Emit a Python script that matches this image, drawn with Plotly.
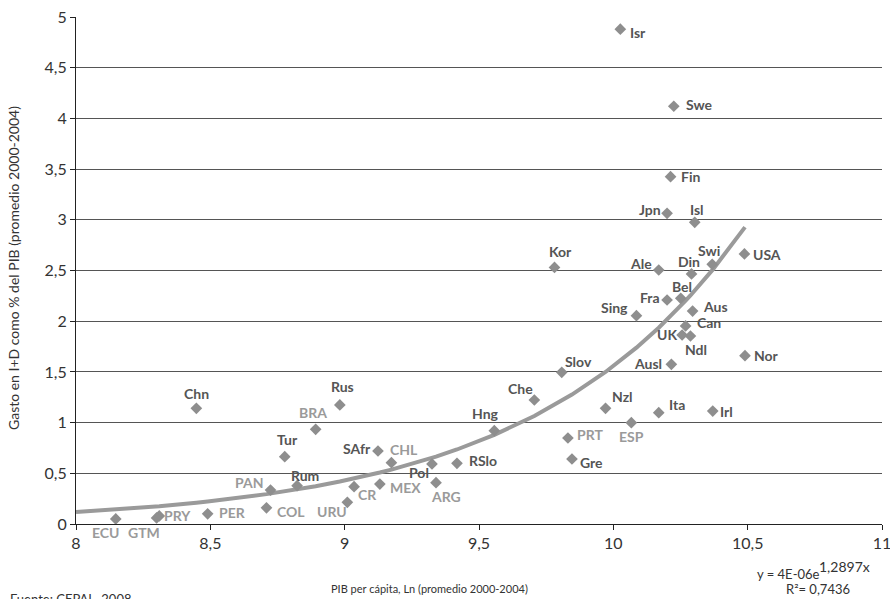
import plotly.graph_objects as go
import numpy as np

# ---- data ----
countries = ["Isr", "Swe", "Fin", "Jpn", "Isl", "Kor", "Ale", "Din", "Swi", "USA",
             "Bel", "Fra", "Sing", "Aus", "Can", "UK", "Ndl", "Nor", "Ausl", "Ita",
             "Irl", "Nzl", "Slov", "Che", "Hng", "ESP", "PRT", "Gre", "RSlo", "Pol",
             "ARG", "MEX", "CR", "URU", "CHL", "SAfr", "Rus", "BRA", "Tur", "Rum",
             "PAN", "COL", "PER", "PRY", "GTM", "ECU", "Chn"]
ln_gdp = [10.026, 10.225, 10.213, 10.20, 10.303, 9.781, 10.169, 10.291, 10.368, 10.488,
          10.251, 10.20, 10.086, 10.295, 10.269, 10.256, 10.287, 10.49, 10.216, 10.169,
          10.37, 9.971, 9.808, 9.706, 9.557, 10.067, 9.831, 9.846, 9.418, 9.325,
          9.34, 9.131, 9.035, 9.01, 9.174, 9.124, 8.982, 8.892, 8.777, 8.823,
          8.724, 8.709, 8.49, 8.31, 8.30, 8.148, 8.448]
rd_pct = [4.88, 4.12, 3.425, 3.064, 2.975, 2.53, 2.505, 2.466, 2.561, 2.663,
          2.226, 2.209, 2.054, 2.10, 1.953, 1.864, 1.854, 1.66, 1.575, 1.098,
          1.114, 1.141, 1.496, 1.223, 0.92, 0.999, 0.848, 0.641, 0.598, 0.592,
          0.408, 0.394, 0.368, 0.214, 0.605, 0.72, 1.174, 0.934, 0.664, 0.378,
          0.335, 0.16, 0.10, 0.08, 0.06, 0.05, 1.141]
ibero = {"ESP", "PRT", "ARG", "MEX", "CR", "URU", "CHL", "BRA", "PAN", "COL",
         "PER", "PRY", "GTM", "ECU"}

# exponential trend (coefficient; shown rounded as 4E-06)
trend_a = 3.9e-06
trend_b = 1.2897
trend_start = 8.0

x_ticks = [8, 8.5, 9, 9.5, 10, 10.5, 11]
x_ticktext = ["8", "8,5", "9", "9,5", "10", "10,5", "11"]
y_ticks = [0, 0.5, 1, 1.5, 2, 2.5, 3, 3.5, 4, 4.5, 5]
y_ticktext = ["0", "0,5", "1", "1,5", "2", "2,5", "3", "3,5", "4", "4,5", "5"]

# ---- label placement (anchor, dx px, dy px down) ----
label_pos = {
    "Isr": ("left", 8, 3), "Swe": ("left", 10, -2), "Fin": ("left", 8, 0),
    "Jpn": ("right", -4, -4), "Isl": ("center", 2, -13), "Kor": ("center", 6, -16),
    "Ale": ("right", -5, -6), "Din": ("center", -3, -12), "Swi": ("center", -3, -14),
    "USA": ("left", 7, 1), "Bel": ("center", 1, -12), "Fra": ("right", -5, -3),
    "Sing": ("right", -6, -8), "Aus": ("left", 8, -5), "Can": ("left", 9, -3),
    "UK": ("right", -3, 0), "Ndl": ("center", 6, 13), "Nor": ("left", 7, 0),
    "Ausl": ("right", -7, -1), "Ita": ("left", 8, -8), "Irl": ("left", 5, 0),
    "Nzl": ("center", 17, -12), "Slov": ("center", 17, -11), "Che": ("center", -14, -11),
    "Hng": ("center", -9, -17), "ESP": ("center", 0, 14), "PRT": ("left", 7, -4),
    "Gre": ("left", 6, 3), "RSlo": ("left", 10, -3), "Pol": ("center", -13, 9),
    "ARG": ("center", 10, 14), "MEX": ("left", 8, 3), "CR": ("center", 13, 8),
    "URU": ("center", -15, 9), "CHL": ("center", 13, -13), "SAfr": ("right", -5, -2),
    "Rus": ("center", 3, -18), "BRA": ("center", -3, -17), "Tur": ("center", 3, -17),
    "Rum": ("center", 8, -10), "PAN": ("right", -6, -8), "COL": ("left", 9, 4),
    "PER": ("left", 9, -1), "PRY": ("left", 3, 0), "GTM": ("center", -13, 15),
    "ECU": ("center", -10, 14), "Chn": ("center", 0, -15),
}

FONT = "Lato, 'Open Sans', sans-serif"
MARKER_COLOR = "#8e8e8e"
DARK_LABEL = "#555555"
LIGHT_LABEL = "#9a9a9a"
TEXT = "#333333"

L, R, T, B = 76, 8, 17, 75
PW, PH = 890 - L - R, 599 - T - B


def px_x(p):
    return (p - L) / PW


def px_y(p):
    return (599 - B - p) / PH


fig = go.Figure()

tx = np.array(sorted([trend_start] + ln_gdp))
ty = trend_a * np.exp(trend_b * tx)
fig.add_trace(go.Scatter(x=tx, y=ty, mode="lines",
                         line=dict(color="#9a9a9a", width=4),
                         hoverinfo="skip", showlegend=False))

fig.add_trace(go.Scatter(x=ln_gdp, y=rd_pct, mode="markers", text=countries,
                         marker=dict(symbol="diamond", size=9, color=MARKER_COLOR),
                         showlegend=False))

annotations = []
for c, xv, yv in zip(countries, ln_gdp, rd_pct):
    anc, dx, dy = label_pos[c]
    annotations.append(dict(
        x=xv, y=yv, xref="x", yref="y", text=f"<b>{c}</b>", showarrow=False,
        xanchor=anc, yanchor="middle", xshift=dx, yshift=-dy,
        font=dict(family=FONT, size=14,
                  color=LIGHT_LABEL if c in ibero else DARK_LABEL)))

annotations += [
    dict(x=px_x(429), y=px_y(588), xref="paper", yref="paper",
         text="PIB per cápita, Ln (promedio 2000-2004)", showarrow=False,
         xanchor="center", yanchor="middle",
         font=dict(family=FONT, size=11, color=TEXT)),
    dict(x=px_x(13), y=px_y(268), xref="paper", yref="paper",
         text="Gasto en I+D como % del PIB (promedio 2000-2004)", showarrow=False,
         textangle=-90, xanchor="center", yanchor="middle",
         font=dict(family=FONT, size=14, color=TEXT)),
    dict(x=px_x(788), y=px_y(574), xref="paper", yref="paper",
         text="y = 4E-06e", showarrow=False, borderpad=0,
         xanchor="center", yanchor="middle",
         font=dict(family=FONT, size=13, color=TEXT)),
    dict(x=px_x(844), y=px_y(566), xref="paper", yref="paper",
         text="1,2897x", showarrow=False, borderpad=0,
         xanchor="center", yanchor="middle",
         font=dict(family=FONT, size=14, color=TEXT)),
    dict(x=px_x(818), y=px_y(589), xref="paper", yref="paper",
         text="R²= 0,7436", showarrow=False, borderpad=0,
         xanchor="center", yanchor="middle",
         font=dict(family=FONT, size=13, color=TEXT)),
    dict(x=px_x(8), y=px_y(599), xref="paper", yref="paper",
         text="Fuente: CEPAL, 2008", showarrow=False,
         xanchor="left", yanchor="middle",
         font=dict(family=FONT, size=13, color=TEXT)),
]

fig.update_layout(
    width=890, height=599,
    margin=dict(l=L, r=R, t=T, b=B, autoexpand=False),
    paper_bgcolor="white", plot_bgcolor="white",
    font=dict(family=FONT, size=15, color=TEXT),
    annotations=annotations,
    xaxis=dict(range=[8, 11], tickvals=x_ticks, ticktext=x_ticktext,
               showgrid=False, zeroline=False, showline=True,
               linecolor="#222", linewidth=1, ticks="outside", ticklen=5,
               tickcolor="#222", ticklabeloverflow="allow", automargin=False,
               tickfont=dict(family=FONT, size=16, color=TEXT)),
    yaxis=dict(range=[0, 5], tickvals=y_ticks, ticktext=y_ticktext,
               showgrid=True, gridcolor="#555", gridwidth=1, zeroline=False,
               showline=True, linecolor="#222", linewidth=1, ticks="outside",
               ticklen=5, tickcolor="#222", automargin=False,
               tickfont=dict(family=FONT, size=16, color=TEXT)),
)

fig.write_html("out.html")
